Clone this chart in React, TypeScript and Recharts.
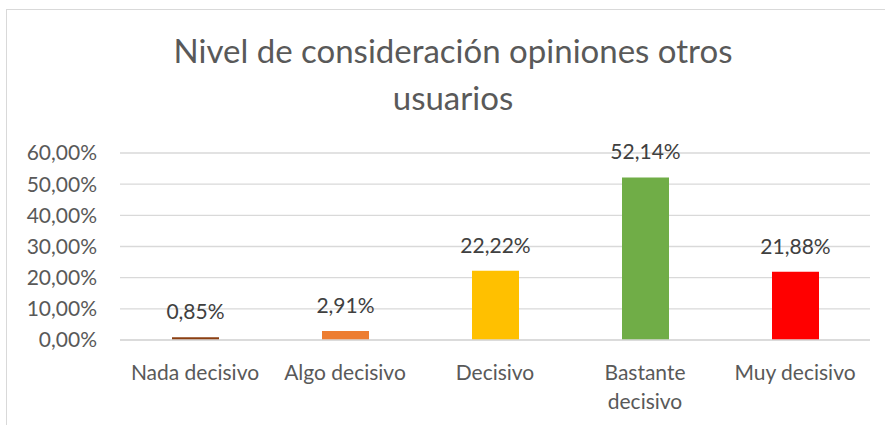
import { BarChart, Bar, XAxis, YAxis, CartesianGrid, LabelList, Cell } from 'recharts';

const categories = ['Nada decisivo', 'Algo decisivo', 'Decisivo', 'Bastante decisivo', 'Muy decisivo'];
// how Excel wrapped each category label
const categoryLines = [['Nada decisivo'], ['Algo decisivo'], ['Decisivo'], ['Bastante', 'decisivo'], ['Muy decisivo']];
const values = [0.85, 2.91, 22.22, 52.14, 21.88];
const barColors = ['#8B3F12', '#ED7D31', '#FFC000', '#70AD47', '#FF0000'];
const yTicks = [0, 10, 20, 30, 40, 50, 60];
const titleLines = ['Nivel de consideración opiniones otros', 'usuarios'];

const data = categories.map((name, i) => ({ name, value: values[i] }));

const pct = (v: number) => v.toFixed(2).replace('.', ',') + '%';

const FONT = 'Lato, "Open Sans", sans-serif';

function XTick(props: any) {
  const { x, y, payload } = props;
  const idx = categories.indexOf(payload.value);
  const lines = idx >= 0 ? categoryLines[idx] : [payload.value];
  return (
    <text x={x} y={y} textAnchor="middle" fill="#595959" fontSize={21} fontFamily={FONT}>
      {lines.map((l: string, i: number) => (
        <tspan key={l} x={x} dy={i === 0 ? 15 : 29}>
          {l}
        </tspan>
      ))}
    </text>
  );
}

export default function App() {
  return (
    <div style={{ position: 'absolute', left: 0, top: 0, width: 885, height: 425, overflow: 'hidden', background: '#fff' }}>
      <div
        style={{
          position: 'absolute',
          left: 6,
          top: 9,
          width: 920,
          height: 440,
          border: '1px solid #D9D9D9',
          boxSizing: 'border-box',
        }}
      />
      <div
        style={{
          position: 'absolute',
          left: 103,
          top: 27,
          width: 700,
          textAlign: 'center',
          fontFamily: FONT,
          fontSize: 33,
          lineHeight: '47px',
          color: '#595959',
          zIndex: 2,
        }}
      >
        {titleLines.map((l) => (
          <div key={l}>{l}</div>
        ))}
      </div>
      <div style={{ position: 'absolute', left: 0, top: 0 }}>
        <BarChart width={885} height={425} data={data} margin={{ top: 153, right: 15, left: 8, bottom: 0 }}>
          <CartesianGrid vertical={false} stroke="#D9D9D9" strokeWidth={1.3} />
          <XAxis
            dataKey="name"
            height={85}
            interval={0}
            tickLine={false}
            axisLine={{ stroke: '#D9D9D9', strokeWidth: 1.3 }}
            tickMargin={19}
            tick={<XTick />}
          />
          <YAxis
            width={112}
            domain={[0, 60]}
            ticks={yTicks}
            tickFormatter={pct}
            tickLine={false}
            axisLine={false}
            tickMargin={17}
            tick={{ fill: '#595959', fontSize: 21, fontFamily: FONT }}
          />
          <Bar dataKey="value" barSize={47} isAnimationActive={false}>
            {data.map((d, i) => (
              <Cell key={d.name} fill={barColors[i]} />
            ))}
            <LabelList
              dataKey="value"
              position="top"
              offset={18}
              formatter={(v: any) => pct(Number(v))}
              fill="#404040"
              fontSize={21}
              fontFamily={FONT}
            />
          </Bar>
        </BarChart>
      </div>
    </div>
  );
}
